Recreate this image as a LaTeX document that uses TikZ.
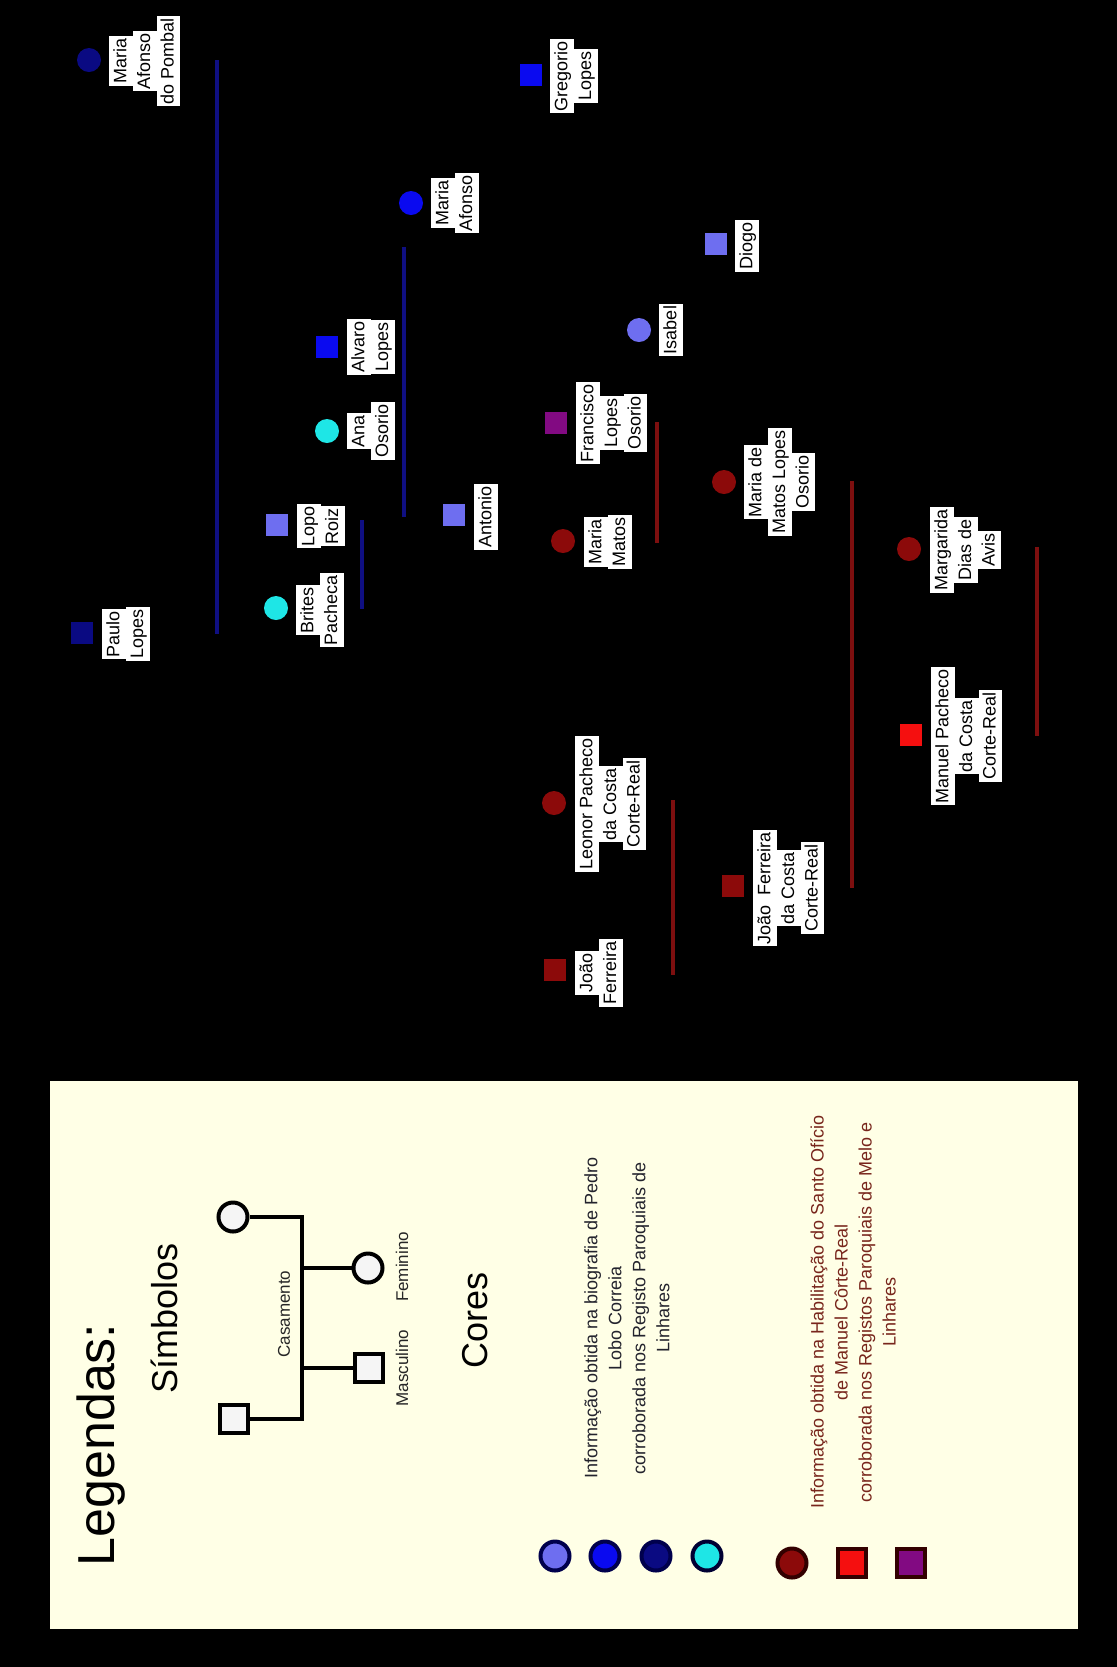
\documentclass[tikz,border=0pt]{standalone}
\usepackage{fontspec}
\setmainfont{Liberation Sans}
\usetikzlibrary{calc}
\definecolor{bgcream}{RGB}{255,255,230}
\definecolor{lblue}{RGB}{110,110,240}
\definecolor{mblue}{RGB}{10,10,240}
\definecolor{nblue}{RGB}{10,10,130}
\definecolor{cyanp}{RGB}{30,230,230}
\definecolor{dred}{RGB}{140,10,10}
\definecolor{bred}{RGB}{245,15,15}
\definecolor{purp}{RGB}{130,10,130}
\definecolor{bline}{RGB}{15,15,130}
\definecolor{rline}{RGB}{125,15,15}
\definecolor{redtext}{RGB}{120,38,28}
\definecolor{infodark}{RGB}{35,35,45}
\definecolor{symfill}{RGB}{245,245,245}
\newcommand\wl[1]{{\fboxsep=0pt\colorbox{white}{\rule[-3.3pt]{0pt}{11.8pt}\hspace{1.2pt}#1\hspace{1.2pt}}}}
\tikzset{
  fem/.style={circle, minimum size=12pt, inner sep=0pt, fill=#1},
  mal/.style={rectangle, minimum size=11pt, inner sep=0pt, fill=#1},
  lbl/.style={rotate=90, anchor=north, align=center, inner sep=0pt,
    font=\fontsize{9pt}{11.8pt}\selectfont, text=black},
  bl/.style={bline, line width=2pt},
  rl/.style={rline, line width=2pt},
  symf/.style={circle, draw=black, line width=2pt, fill=symfill, minimum size=14.5pt, inner sep=0pt},
  symm/.style={rectangle, draw=black, line width=2pt, fill=symfill, minimum size=14pt, inner sep=0pt},
  symline/.style={black, line width=2pt},
  smalltxt/.style={rotate=90, inner sep=0pt, font=\fontsize{8.5pt}{10pt}\selectfont, text=black!85},
  colc/.style={circle, draw=#1, line width=2pt, minimum size=14.5pt, inner sep=0pt},
  colsq/.style={rectangle, draw=#1, line width=2pt, minimum size=14pt, inner sep=0pt},
  infotxt/.style={rotate=90, align=center, inner sep=0pt, font=\fontsize{9pt}{12pt}\selectfont},
}
\begin{document}
\begin{tikzpicture}[x=0.5pt,y=-0.5pt]
\fill[black] (0,0) rectangle (1117,1667);
\useasboundingbox (0,0) rectangle (1117,1667);

% ---------- tree ----------
\node[fem=nblue] (pombal) at (89,60) {};
\node[lbl] (pombalL) at ($(pombal)+(20,1)$) {\wl{Maria}\\\wl{Afonso}\\\wl{do Pombal}};
\node[mal=nblue] (paulo) at (82,633) {};
\node[lbl] (pauloL) at ($(paulo)+(20,1)$) {\wl{Paulo}\\\wl{Lopes}};
\node[mal=mblue] (gregorio) at (531,75) {};
\node[lbl] (gregorioL) at ($(gregorio)+(19,1)$) {\wl{Gregorio}\\\wl{Lopes}};
\node[fem=mblue] (mafonso) at (411,203) {};
\node[lbl] (mafonsoL) at ($(mafonso)+(20,0)$) {\wl{Maria}\\\wl{Afonso}};
\node[mal=mblue] (alvaro) at (327,347) {};
\node[lbl] (alvaroL) at ($(alvaro)+(20,0)$) {\wl{Alvaro}\\\wl{Lopes}};
\node[fem=cyanp] (ana) at (327,431) {};
\node[lbl] (anaL) at ($(ana)+(20,0)$) {\wl{Ana}\\\wl{Osorio}};
\node[mal=lblue] (lopo) at (277,525) {};
\node[lbl] (lopoL) at ($(lopo)+(20,1)$) {\wl{Lopo}\\\wl{Roiz}};
\node[fem=cyanp] (brites) at (276,608) {};
\node[lbl] (britesL) at ($(brites)+(20,2)$) {\wl{Brites}\\\wl{Pacheca}};
\node[mal=lblue] (antonio) at (454,515) {};
\node[lbl] (antonioL) at ($(antonio)+(20,2)$) {\wl{Antonio}};
\node[mal=lblue] (diogo) at (716,244) {};
\node[lbl] (diogoL) at ($(diogo)+(19,2)$) {\wl{Diogo}};
\node[fem=lblue] (isabel) at (639,330) {};
\node[lbl] (isabelL) at ($(isabel)+(20,0)$) {\wl{Isabel}};
\node[mal=purp] (francisco) at (556,423) {};
\node[lbl] (franciscoL) at ($(francisco)+(20,0)$) {\wl{Francisco}\\\wl{Lopes}\\\wl{Osorio}};
\node[fem=dred] (mmatos) at (563,541) {};
\node[lbl] (mmatosL) at ($(mmatos)+(21,1)$) {\wl{Maria}\\\wl{Matos}};
\node[fem=dred] (mmlo) at (724,482) {};
\node[lbl] (mmloL) at ($(mmlo)+(20,0)$) {\wl{Maria de}\\\wl{Matos Lopes}\\\wl{Osorio}};
\node[fem=dred] (margarida) at (909,549) {};
\node[lbl] (margaridaL) at ($(margarida)+(21,1)$) {\wl{Margarida}\\\wl{Dias de}\\\wl{Avis}};
\node[mal=bred] (manuel) at (911,735) {};
\node[lbl] (manuelL) at ($(manuel)+(20,1)$) {\wl{Manuel Pacheco}\\\wl{da Costa}\\\wl{Corte-Real}};
\node[fem=dred] (leonor) at (554,803) {};
\node[lbl] (leonorL) at ($(leonor)+(21,1)$) {\wl{Leonor Pacheco}\\\wl{da Costa}\\\wl{Corte-Real}};
\node[mal=dred] (joaof) at (555,970) {};
\node[lbl] (joaofL) at ($(joaof)+(20,3)$) {\wl{João}\\\wl{Ferreira}};
\node[mal=dred] (joaofc) at (733,886) {};
\node[lbl] (joaofcL) at ($(joaofc)+(20,2)$) {\wl{João\ \ Ferreira}\\\wl{da Costa}\\\wl{Corte-Real}};

% marriage lines
\coordinate (b1a) at (217,60);   \coordinate (b1b) at (217,634);
\coordinate (b2a) at (404,247);  \coordinate (b2b) at (404,517);
\coordinate (b3a) at (362,520);  \coordinate (b3b) at (362,609);
\coordinate (r1a) at (657,422);  \coordinate (r1b) at (657,543);
\coordinate (r2a) at (852,481);  \coordinate (r2b) at (852,888);
\coordinate (r3a) at (1037,547); \coordinate (r3b) at (1037,736);
\coordinate (r4a) at (673,800);  \coordinate (r4b) at (673,975);
\draw[bl] (b1a) -- (b1b);
\draw[bl] (b2a) -- (b2b);
\draw[bl] (b3a) -- (b3b);
\draw[rl] (r1a) -- (r1b);
\draw[rl] (r2a) -- (r2b);
\draw[rl] (r3a) -- (r3b);
\draw[rl] (r4a) -- (r4b);

% ---------- legend ----------
\fill[bgcream] (50,1081) rectangle (1078,1629);
\node[rotate=90, inner sep=0pt, font=\fontsize{26pt}{30pt}\selectfont] (leg) at (101,1445) {Legendas:};
\node[rotate=90, inner sep=0pt, font=\fontsize{18pt}{22pt}\selectfont] (simb) at (164,1318) {Símbolos};
\node[rotate=90, inner sep=0pt, font=\fontsize{18pt}{22pt}\selectfont] (cores) at (475,1320) {Cores};

\node[symf] (lf1) at (233,1217) {};
\node[symm] (lm1) at (234,1419) {};
\coordinate (vt) at (302,1217);
\coordinate (vb) at (302,1419);
\draw[symline] (lf1) -- (vt) -- (vb) -- (lm1);
\node[symf] (lf2) at (368,1268) {};
\node[symm] (lm2) at (369,1368) {};
\draw[symline] (lf2) -- (lf2 -| vt);
\draw[symline] (lm2) -- (lm2 -| vt);
\node[smalltxt] (cas) at (284,1314) {Casamento};
\node[smalltxt] (masc) at (402,1368) {Masculino};
\node[smalltxt] (fem) at (402,1267) {Feminino};

\node[colc={black!70!blue}, fill=lblue] (c1) at (555,1556) {};
\node[colc={black!70!blue}, fill=mblue] (c2) at (605,1556) {};
\node[colc={black!70!blue}, fill=nblue] (c3) at (656,1556) {};
\node[colc={black!80!blue}, fill=cyanp] (c4) at (707,1556) {};
\node[infotxt, text=infodark] (info1) at (627,1318) {Informação obtida na biografia de Pedro\\Lobo Correia\\corroborada nos Registo Paroquiais de\\Linhares};

\node[colc={black!80!red}, fill=dred] (c5) at (792,1563) {};
\node[colsq={black!80!red}, fill=bred] (c6) at (852,1563) {};
\node[colsq={black!80!red}, fill=purp] (c7) at (911,1563) {};
\node[infotxt, text=redtext] (info2) at (853,1312) {Informação obtida na Habilitação do Santo Ofício\\de Manuel Côrte-Real\\corroborada nos Registos Paroquiais de Melo e\\Linhares};
\end{tikzpicture}
\end{document}
